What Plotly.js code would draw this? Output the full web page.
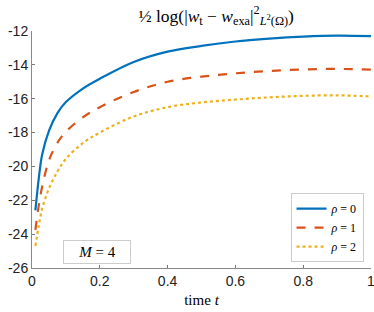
<!DOCTYPE html>
<html>
<head>
<meta charset="utf-8">
<script src="https://cdn.plot.ly/plotly-3.0.1.min.js"></script>
<style>html,body{margin:0;padding:0;background:#fff;}#chart{width:374px;height:312px;}</style>
</head>
<body>
<div id="chart"></div>
<script>
const timeT = [0.01,0.02,0.03,0.05,0.075,0.1,0.15,0.2,0.3,0.4,0.5,0.6,0.7,0.8,0.9,1.0];
const rho0 = [-22.6,-20.7,-19.3,-17.9,-16.85,-16.2,-15.4,-14.82,-13.83,-13.22,-12.88,-12.62,-12.45,-12.33,-12.27,-12.3];
const rho1 = [-23.75,-22.3,-21.2,-19.65,-18.6,-17.95,-17.1,-16.5,-15.6,-15.0,-14.7,-14.5,-14.36,-14.27,-14.24,-14.28];
const rho2 = [-24.7,-23.5,-22.5,-21.3,-20.3,-19.55,-18.62,-18.0,-17.05,-16.5,-16.22,-16.05,-15.92,-15.83,-15.8,-15.87];
const seriesNames = ['<i>ρ</i> = 0','<i>ρ</i> = 1','<i>ρ</i> = 2'];
const yTicks = [-26,-24,-22,-20,-18,-16,-14,-12];
const yTickText = ['-26','-24','-22','-20','-18','-16','-14','-12'];
const xTicks = [0,0.2,0.4,0.6,0.8,1];
const xTickText = ['0','0.2','0.4','0.6','0.8','1'];

const serif = '"Liberation Serif","DejaVu Serif",serif';
const sans = '"Liberation Sans",Arial,sans-serif';

const traces = [
  {x: timeT, y: rho0, name: seriesNames[0], mode: 'lines', line: {color: '#0072BD', width: 2.2, shape: 'spline'}},
  {x: timeT, y: rho1, name: seriesNames[1], mode: 'lines', line: {color: '#D95319', width: 2.2, dash: 'dash', shape: 'spline'}},
  {x: timeT, y: rho2, name: seriesNames[2], mode: 'lines', line: {color: '#EDB120', width: 2.2, dash: 'dot', shape: 'spline'}}
];

const layout = {
  width: 374, height: 312,
  margin: {l: 32, r: 3, t: 31, b: 44},
  paper_bgcolor: '#fff', plot_bgcolor: '#fff',
  showlegend: true,
  title: {
    text: '½ log(|<i>w</i><sub>t</sub> − <i>w</i><sub>exa</sub>|<sup>2</sup><sub><i>L</i><sup>2</sup>(Ω)</sub>)',
    font: {family: serif, size: 17.5, color: '#000'},
    x: 0.578, xanchor: 'center', y: 0.95, yanchor: 'middle'
  },
  xaxis: {
    range: [0, 1], tickvals: xTicks, ticktext: xTickText,
    ticks: 'inside', ticklen: 3, tickcolor: '#777', linecolor: '#888', linewidth: 1,
    showline: true, showgrid: false, zeroline: false, ticklabeloverflow: 'allow',
    tickfont: {family: sans, size: 14, color: '#222'},
    title: {text: 'time <i>t</i>', font: {family: serif, size: 15, color: '#000'}, standoff: 6}
  },
  yaxis: {
    range: [-26, -12], tickvals: yTicks, ticktext: yTickText,
    ticks: 'inside', ticklen: 3, tickcolor: '#777', linecolor: '#888', linewidth: 1,
    showline: true, showgrid: false, zeroline: false, ticklabeloverflow: 'allow',
    tickfont: {family: sans, size: 14, color: '#222'}
  },
  legend: {
    x: 0.978, y: 0.025, xanchor: 'right', yanchor: 'bottom',
    bgcolor: '#fff', bordercolor: '#ccc', borderwidth: 1,
    font: {family: serif, size: 12, color: '#000'},
    itemwidth: 30, tracegroupgap: 0
  },
  annotations: [{
    xref: 'paper', yref: 'paper', x: 0.09, y: 0.015, xanchor: 'left', yanchor: 'bottom',
    text: '<i>M</i> = 4', showarrow: false,
    font: {family: serif, size: 15, color: '#000'},
    bordercolor: '#ccc', borderwidth: 1, borderpad: 3, bgcolor: '#fff', width: 60, align: 'center'
  }]
};

Plotly.newPlot('chart', traces, layout, {displayModeBar: false, staticPlot: true});
</script>
</body>
</html>
